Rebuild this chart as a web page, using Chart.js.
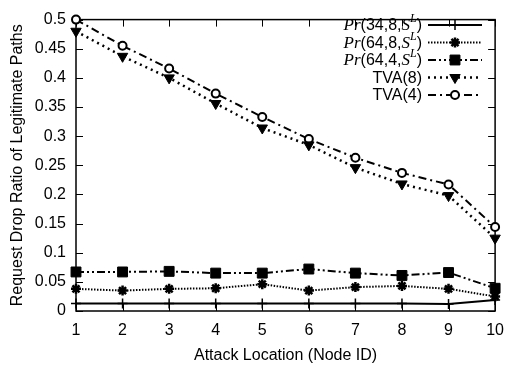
<!DOCTYPE html>
<html>
<head>
<meta charset="utf-8">
<script src="https://cdn.jsdelivr.net/npm/chart.js@4"></script>
<style>
  body { margin: 0; background: #fff; }
  #wrap { width: 514px; height: 369px; position: relative; }
</style>
</head>
<body>
<div id="wrap"><canvas id="chart"></canvas></div>
<script>
// attack location (node id) on the x axis
const nodeIds = ['1', '2', '3', '4', '5', '6', '7', '8', '9', '10'];

// request drop ratio per series
const pr34_8 = [0.013, 0.013, 0.013, 0.013, 0.013, 0.013, 0.013, 0.013, 0.012, 0.019];
const pr64_8 = [0.038, 0.035, 0.038, 0.039, 0.046, 0.035, 0.041, 0.043, 0.038, 0.025];
const pr64_4 = [0.067, 0.067, 0.068, 0.065, 0.065, 0.072, 0.065, 0.061, 0.066, 0.039];
const tva8 = [0.48, 0.437, 0.40, 0.356, 0.314, 0.285, 0.246, 0.218, 0.198, 0.125];
const tva4 = [0.5, 0.455, 0.416, 0.373, 0.333, 0.295, 0.263, 0.237, 0.217, 0.144];

// legend labels: [Pr part?, numbers]
const seriesNames = ['Pr(34,8,S^L)', 'Pr(64,8,S^L)', 'Pr(64,4,S^L)', 'TVA(8)', 'TVA(4)'];

const SANS = '"Liberation Sans", Arial, sans-serif';
const SERIF = '"Liberation Serif", "Times New Roman", serif';

// box around the plot with inward ticks on all four sides
const framePlugin = {
  id: 'frame',
  beforeDatasetsDraw(chart) {
    const { ctx, chartArea: a, scales: { x, y } } = chart;
    const len = 7;
    ctx.save();
    ctx.strokeStyle = '#000';
    ctx.lineWidth = 1;
    ctx.beginPath();
    x.ticks.forEach((t, i) => {
      const px = Math.round(x.getPixelForTick(i)) + 0.5;
      ctx.moveTo(px, a.bottom); ctx.lineTo(px, a.bottom - len);
      ctx.moveTo(px, a.top); ctx.lineTo(px, a.top + len);
    });
    y.ticks.forEach((t) => {
      const py = Math.round(y.getPixelForValue(t.value)) + 0.5;
      ctx.moveTo(a.left, py); ctx.lineTo(a.left + len, py);
      ctx.moveTo(a.right, py); ctx.lineTo(a.right - len, py);
    });
    ctx.stroke();
    ctx.lineWidth = 1.5;
    ctx.strokeRect(a.left, a.top, a.right - a.left, a.bottom - a.top);
    ctx.restore();
  }
};

// split a label like Pr(34,8,S^L) into styled runs
function labelRuns(name) {
  if (!name.startsWith('Pr(')) return [{ t: name, f: '16px ' + SANS, dy: 0 }];
  const inner = name.slice(3, name.indexOf('S^'));
  const sup = name.slice(name.indexOf('^') + 1, name.length - 1);
  return [
    { t: 'Pr', f: 'italic 17px ' + SERIF, dy: 0 },
    { t: '(' + inner, f: '16px ' + SANS, dy: 0 },
    { t: 'S', f: 'italic 17px ' + SERIF, dy: 0 },
    { t: sup, f: 'italic 12px ' + SERIF, dy: -7 },
    { t: ')', f: '16px ' + SANS, dy: 0 }
  ];
}

const legendPlugin = {
  id: 'keyBox',
  afterDraw(chart) {
    const { ctx } = chart;
    const textRight = 422, lineL = 428, lineR = 482, markX = 455;
    ctx.save();
    chart.data.datasets.forEach((ds, i) => {
      const yy = 25 + i * 17.5;
      const runs = labelRuns(seriesNames[i]);
      let w = 0;
      runs.forEach(r => { ctx.font = r.f; w += ctx.measureText(r.t).width; });
      let xx = textRight - w;
      ctx.fillStyle = '#000';
      ctx.textBaseline = 'middle';
      ctx.textAlign = 'left';
      runs.forEach(r => {
        ctx.font = r.f;
        ctx.fillText(r.t, xx, yy + 1 + r.dy);
        xx += ctx.measureText(r.t).width;
      });
      ctx.strokeStyle = '#000';
      ctx.lineWidth = ds.borderWidth;
      ctx.setLineDash(ds.borderDash || []);
      ctx.beginPath();
      ctx.moveTo(lineL, yy); ctx.lineTo(lineR, yy);
      ctx.stroke();
      ctx.setLineDash([]);
      ctx.fillStyle = ds.pointBackgroundColor;
      ctx.strokeStyle = '#000';
      ctx.lineWidth = ds.pointBorderWidth;
      Chart.helpers.drawPoint(ctx, {
        pointStyle: ds.pointStyle,
        radius: ds.pointRadius,
        rotation: ds.pointRotation || 0,
        borderWidth: ds.pointBorderWidth
      }, markX, yy);
    });
    ctx.restore();
  }
};

function series(data, dash, width, style, radius, bg, bw, rot) {
  return {
    data,
    borderColor: '#000',
    borderWidth: width,
    borderDash: dash,
    pointStyle: style,
    pointRadius: radius,
    pointBackgroundColor: bg,
    pointBorderColor: '#000',
    pointBorderWidth: bw,
    pointRotation: rot || 0,
    tension: 0,
    fill: false,
    clip: false
  };
}

new Chart(document.getElementById('chart'), {
  type: 'line',
  data: {
    labels: nodeIds,
    datasets: [
      series(pr34_8, [], 2, 'cross', 5, '#000', 1.5),
      series(pr64_8, [1.5, 1.5], 2, 'star', 5, '#000', 2.5),
      series(pr64_4, [8, 3, 2, 3, 2, 3], 2, 'rect', 7, '#000', 1),
      series(tva8, [2, 4], 2.5, 'triangle', 6, '#000', 1, 180),
      series(tva4, [8, 4, 2, 4], 2, 'circle', 4, '#fff', 2)
    ]
  },
  options: {
    responsive: true,
    maintainAspectRatio: false,
    animation: false,
    layout: { padding: { top: 9, right: 12, left: 0, bottom: 0 } },
    plugins: { legend: { display: false }, tooltip: { enabled: false } },
    scales: {
      x: {
        offset: false,
        grid: { display: false, drawTicks: false },
        border: { display: false },
        ticks: { color: '#000', font: { family: SANS, size: 16 }, padding: 10, autoSkip: false, maxRotation: 0 },
        title: { display: true, text: 'Attack Location (Node ID)', color: '#000', font: { family: SANS, size: 16 }, padding: { top: 0, bottom: 4 } },
        afterFit(s) { s.height = 58; }
      },
      y: {
        min: 0,
        max: 0.5,
        grid: { display: false, drawTicks: false },
        border: { display: false },
        ticks: {
          stepSize: 0.05,
          color: '#000',
          font: { family: SANS, size: 16 },
          padding: 10,
          callback: v => String(Math.round(v * 100) / 100)
        },
        title: { display: true, text: 'Request Drop Ratio of Legitimate Paths', color: '#000', font: { family: SANS, size: 16 }, padding: { top: 8, bottom: 0 } },
        afterFit(s) { s.width = 76; }
      }
    }
  },
  plugins: [framePlugin, legendPlugin]
});
</script>
</body>
</html>
